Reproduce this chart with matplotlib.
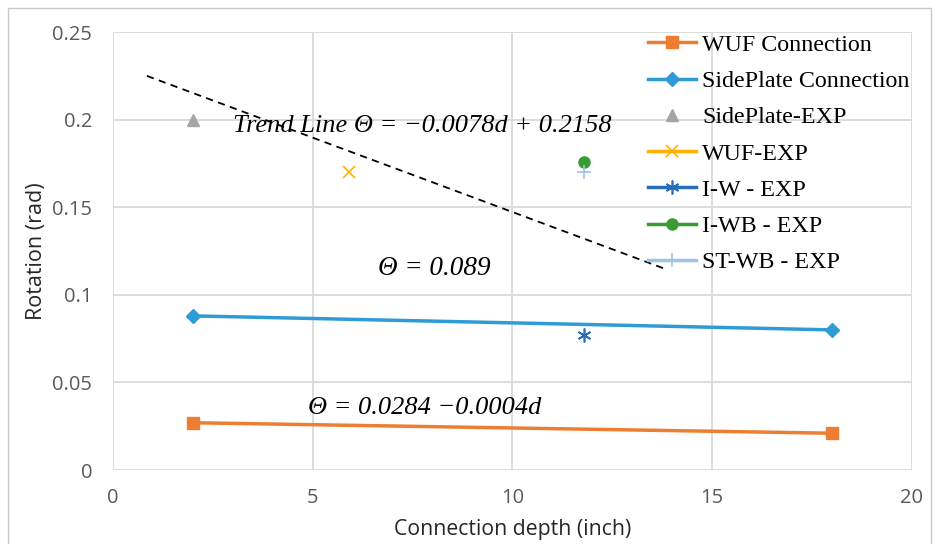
"""
Rotation vs connection depth: WUF / SidePlate connections and experiments
"""

import matplotlib.pyplot as plt
from matplotlib.patches import Rectangle

# Datos
depth_model = [2, 18]
wuf_rot = [0.027, 0.021]
sideplate_rot = [0.088, 0.080]

sp_exp_d, sp_exp_r = [2], [0.200]
wuf_exp_d, wuf_exp_r = [5.9], [0.170]
iw_exp_d, iw_exp_r = [11.8], [0.077]
iwb_exp_d, iwb_exp_r = [11.8], [0.176]
stwb_exp_d, stwb_exp_r = [11.8], [0.170]

trend_d = [0.85, 13.8]
trend_r = [0.225, 0.115]

serif = ['Liberation Serif', 'DejaVu Serif']
plt.rcParams['font.family'] = ['Open Sans', 'DejaVu Sans']

fig = plt.figure(figsize=(9.39, 5.44), dpi=100)
ax = fig.add_axes([0.1203, 0.136, 0.8509, 0.805])

fig.patches.append(Rectangle((8 / 939, -0.01), 923 / 939, 1 - 8 / 544 + 0.01,
                             transform=fig.transFigure, fill=False,
                             edgecolor='#c8c8c8', linewidth=1))

ax.plot(depth_model, wuf_rot, color='#ED7D31', lw=2.5, marker='s', ms=9,
        label='WUF Connection')
ax.plot(depth_model, sideplate_rot, color='#2E9BD6', lw=2.5, marker='D', ms=7,
        label='SidePlate Connection')
ax.plot(sp_exp_d, sp_exp_r, color='#A5A5A5', ls='none', marker='^', ms=8,
        label='SidePlate-EXP')
ax.plot(wuf_exp_d, wuf_exp_r, color='#FFB000', lw=2.5, marker='x', ms=9,
        mew=1.2, label='WUF-EXP')
ax.plot(iw_exp_d, iw_exp_r, color='#2B6CB8', lw=2.5, marker=(6, 2, 0), ms=10,
        mew=1.2, label='I-W - EXP')
ax.plot(iwb_exp_d, iwb_exp_r, color='#3A9A35', lw=2.5, marker='o', ms=8,
        label='I-WB - EXP')
ax.plot(stwb_exp_d, stwb_exp_r, color='#9DC3E6', lw=2.5, marker='+', ms=10,
        mew=1.2, label='ST-WB - EXP')

ax.plot(trend_d, trend_r, color='black', ls='--', lw=1.3, dashes=(4, 3))

ax.text(3.0, 0.1963, 'Trend Line \u0398 = \u22120.0078d + 0.2158', family=serif,
        style='italic', fontsize=19, va='center')
ax.text(6.63, 0.1153, '\u0398 = 0.089', family=serif, style='italic',
        fontsize=19.5, va='center')
ax.text(4.88, 0.0354, '\u0398 = 0.0284 \u22120.0004d', family=serif,
        style='italic', fontsize=19, va='center')

ax.set_xlim(0, 20)
ax.set_ylim(0, 0.25)
ax.set_xticks([0, 5, 10, 15, 20])
ax.set_xticklabels(['0', '5', '10', '15', '20'])
ax.set_yticks([0, 0.05, 0.1, 0.15, 0.2, 0.25])
ax.set_yticklabels(['0', '0.05', '0.1', '0.15', '0.2', '0.25'])
ax.tick_params(length=0, labelsize=14.5, labelcolor='#595959')
ax.tick_params(axis='y', pad=15)
ax.tick_params(axis='x', pad=13)
ax.grid(True, color='#d9d9d9', lw=1.3)
ax.set_axisbelow(True)
for s in ax.spines.values():
    s.set_visible(False)

ax.set_xlabel('Connection depth (inch)', fontsize=15.3, color='#262626', labelpad=8)
ax.set_ylabel('Rotation (rad)', fontsize=15.5, color='#262626', labelpad=3.5)

ax.legend(loc='upper left', bbox_to_anchor=(648 / 939, 1 - 34 / 544),
          bbox_transform=fig.transFigure, frameon=False, borderpad=0,
          prop={'family': serif, 'size': 17.3}, handlelength=2.0,
          handletextpad=0.25, labelspacing=0.6, borderaxespad=0)

plt.savefig('out.png', dpi=100)
